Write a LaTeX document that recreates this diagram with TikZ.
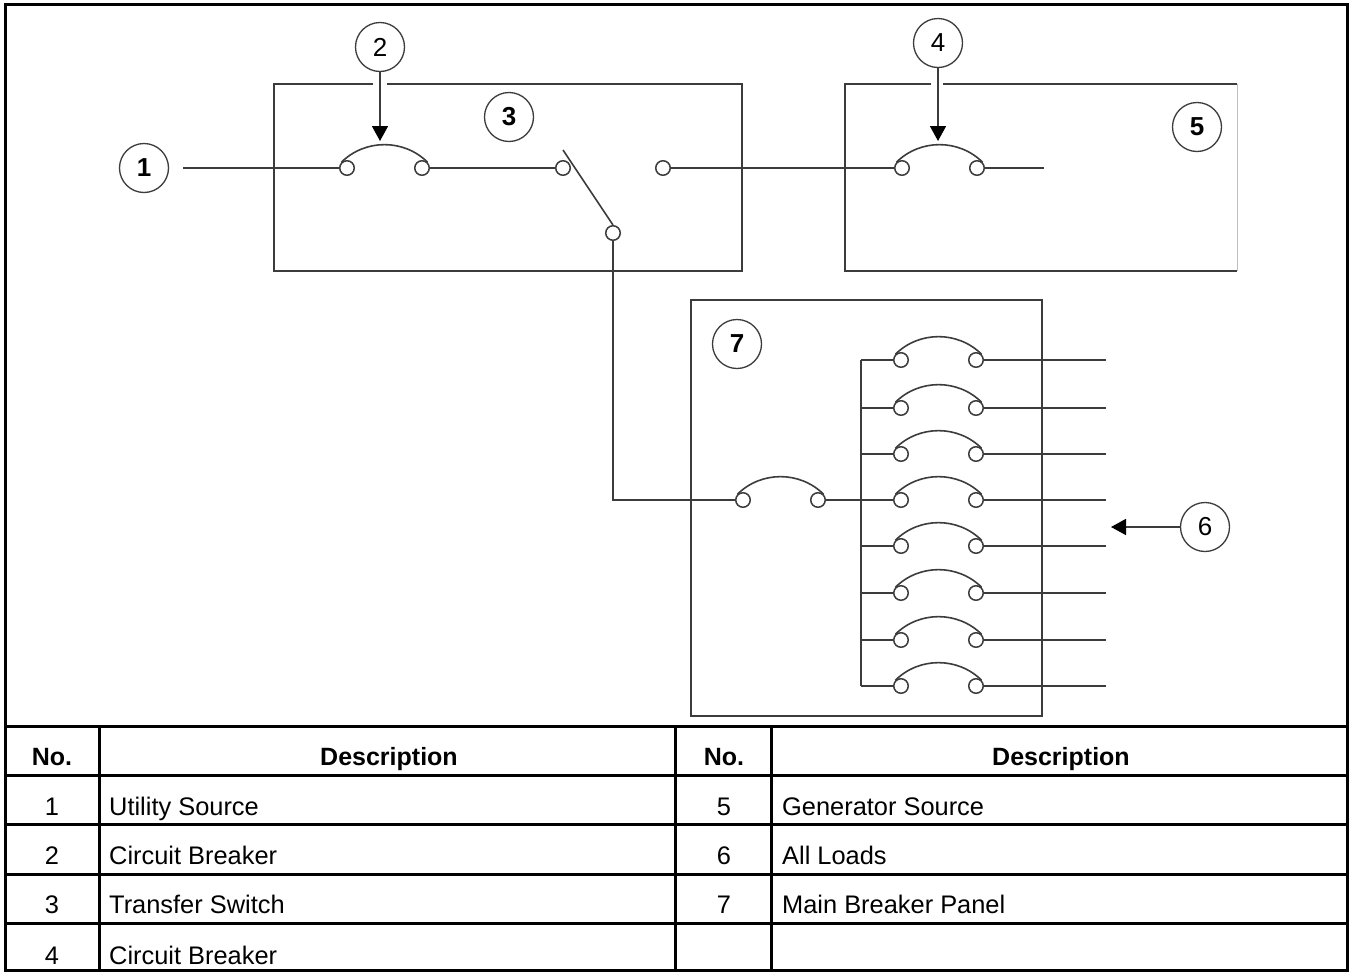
\documentclass[tikz,border=0pt]{standalone}
\usepackage{fontspec}
\setmainfont{Liberation Sans}
\usetikzlibrary{arrows.meta}
\definecolor{wirec}{HTML}{3C3C3C}
\tikzset{
  x=1pt,y=-1pt,
  wire/.style={draw=wirec,line width=1.6pt},
  frameline/.style={draw=black,line width=3pt},
  terminal/.style={circle,draw=wirec,line width=1.5pt,fill=white,minimum size=14.5pt,inner sep=0pt},
  callout/.style={circle,draw=wirec,line width=1.3pt,fill=white,minimum size=49pt,inner sep=0pt,font=\fontsize{26}{26}\selectfont},
  calloutb/.style={callout,font=\fontsize{26}{26}\selectfont\bfseries},
  pointer/.style={wire,-{Triangle[length=15pt,width=16pt,color=black]}},
  cell/.style={anchor=base,inner sep=0pt,font=\fontsize{25.4}{25.4}\selectfont},
  head/.style={cell,font=\fontsize{25}{25}\selectfont\bfseries},
  descr/.style={cell,anchor=base west}
}
\newcommand{\breaker}[4]{%
  \node[terminal] (#1l) at (#2,#4) {};
  \node[terminal] (#1r) at (#3,#4) {};
  \draw[wire] (#1l.135) .. controls +(23.6,-23.6) and +(-23.6,-23.6) .. (#1r.45);
}
\begin{document}
\begin{tikzpicture}
\useasboundingbox (0,0) rectangle (1350,972);
\fill[white] (0,0) rectangle (1350,972);
% boxes
\draw[wire] (373,84) -- (274,84) -- (274,271) -- (742,271) -- (742,84) -- (387,84);
\draw[wire] (931,84) -- (845,84) -- (845,271) -- (1237,271);
\draw[wire] (943,84) -- (1237,84);
\draw[draw=black!25,line width=1pt] (1237,84) -- (1237,271);
\draw[wire] (691,300) rectangle (1042,716);
% callouts
\node[calloutb] (c1) at (144,168) {1};
\node[callout] (c2) at (380,47) {2};
\node[calloutb] (c3) at (509,117) {3};
\node[callout] (c4) at (938,43) {4};
\node[calloutb] (c5) at (1197,127) {5};
\node[callout] (c6) at (1205,527) {6};
\node[calloutb] (c7) at (737,344) {7};
% breakers
\breaker{a}{347}{422}{168}
\breaker{b}{902}{977}{168}
\breaker{m}{743}{818}{500}
\breaker{ra}{901}{976}{360}
\breaker{rb}{901}{976}{408}
\breaker{rc}{901}{976}{454}
\breaker{rd}{901}{976}{500}
\breaker{re}{901}{976}{546}
\breaker{rf}{901}{976}{593}
\breaker{rg}{901}{976}{640}
\breaker{rh}{901}{976}{686}
% switch
\node[terminal] (s1) at (563,168) {};
\node[terminal] (s2) at (663,168) {};
\node[terminal] (s3) at (613,233) {};
\coordinate (blade) at (563,150);
\draw[wire] (blade) -- (s3.north);
% free ends
\coordinate (in1) at (183,168);
\coordinate (out4) at (1044,168);
\coordinate (tip6) at (1111,527);
\coordinate (bustop) at (861,360);
\coordinate (busbot) at (861,686);
% wires
\draw[wire] (in1) -- (al.west);
\draw[wire] (ar.east) -- (s1.west);
\draw[wire] (s2.east) -- (bl.west);
\draw[wire] (br.east) -- (out4);
\draw[wire] (s3.south) |- (ml.west);
\draw[wire] (mr.east) -- (rdl.west);
\draw[wire] (bustop) -- (busbot);
\foreach \r/\y in {ra/360,rb/408,rc/454,rd/500,re/546,rf/593,rg/640,rh/686}{
  \coordinate (bus\r) at (861,\y);
  \coordinate (end\r) at (1106,\y);
  \draw[wire] (bus\r) -- (\r l.west);
  \draw[wire] (\r r.east) -- (end\r);
}
\draw[pointer] (c2.south) -- (380,141);
\draw[pointer] (c4.south) -- (938,141);
\draw[pointer] (c6.west) -- (tip6);
% table
\draw[frameline] (5.5,4.5) rectangle (1347,970.5);
\foreach \y in {726,775,824,874,923}{\draw[frameline] (5.5,\y) -- (1347,\y);}
\foreach \x in {99,675,771}{\draw[frameline] (\x,726) -- (\x,970.5);}
\node[head] (h1) at (52,765) {No.};
\node[head] (h2) at (389,765) {Description};
\node[head] (h3) at (724,765) {No.};
\node[head] (h4) at (1061,765) {Description};
\node[cell] (n1) at (52,815) {1};
\node[cell] (n2) at (52,864) {2};
\node[cell] (n3) at (52,913) {3};
\node[cell] (n4) at (52,964) {4};
\node[descr] (d1) at (109,815) {Utility Source};
\node[descr] (d2) at (109,864) {Circuit Breaker};
\node[descr] (d3) at (109,913) {Transfer Switch};
\node[descr] (d4) at (109,964) {Circuit Breaker};
\node[cell] (n5) at (724,815) {5};
\node[cell] (n6) at (724,864) {6};
\node[cell] (n7) at (724,913) {7};
\node[descr] (d5) at (782,815) {Generator Source};
\node[descr] (d6) at (782,864) {All Loads};
\node[descr] (d7) at (782,913) {Main Breaker Panel};
\end{tikzpicture}
\end{document}
